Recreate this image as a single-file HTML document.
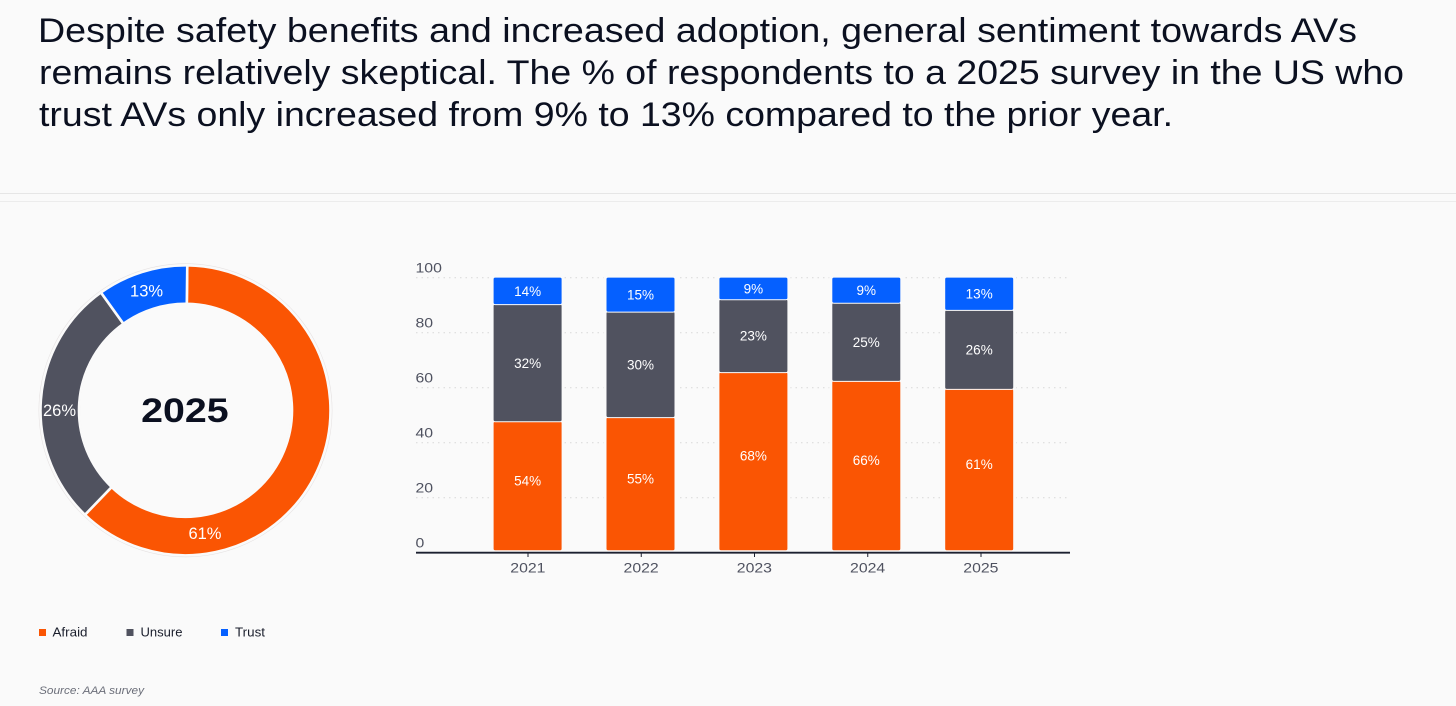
<!DOCTYPE html>
<html lang="en">
<head>
<meta charset="utf-8">
<title>AV sentiment chart</title>
<style>
  html, body { margin: 0; padding: 0; background: #fafafa; }
  body { width: 1456px; height: 706px; overflow: hidden; }
  svg { display: block; font-family: "Liberation Sans", sans-serif; }
</style>
</head>
<body>
<svg id="root" width="1456" height="706" viewBox="0 0 1456 706" xmlns="http://www.w3.org/2000/svg">
  <rect x="0" y="0" width="1456" height="706" fill="#fafafa"/>
  <g fill="#0b1020" font-size="34.5">
    <text x="38" y="42" textLength="1319" lengthAdjust="spacingAndGlyphs">Despite safety benefits and increased adoption, general sentiment towards AVs</text>
    <text x="39" y="84" textLength="1365" lengthAdjust="spacingAndGlyphs">remains relatively skeptical. The % of respondents to a 2025 survey in the US who</text>
    <text x="39" y="126" textLength="1134" lengthAdjust="spacingAndGlyphs">trust AVs only increased from 9% to 13% compared to the prior year.</text>
  </g>
  <rect x="0" y="193" width="1456" height="1" fill="#e6e6e6"/>
  <rect x="0" y="201" width="1456" height="1" fill="#ececec"/>

  <g id="donut"></g>
  <g id="bars"></g>

  <g font-size="13" fill="#1a1e2c">
    <g>
      <rect x="39" y="629" width="7" height="7" fill="#fa5503"/>
      <text x="52.5" y="636.5" textLength="35" lengthAdjust="spacingAndGlyphs">Afraid</text>
    </g>
    <g>
      <rect x="126.5" y="629" width="7" height="7" fill="#50525f"/>
      <text x="140.5" y="636.5" textLength="42" lengthAdjust="spacingAndGlyphs">Unsure</text>
    </g>
    <g>
      <rect x="221" y="629" width="7" height="7" fill="#0560ff"/>
      <text x="235" y="636.5" textLength="30" lengthAdjust="spacingAndGlyphs">Trust</text>
    </g>
  </g>
  <text x="39" y="694" font-size="11" font-style="italic" fill="#6b6e79" textLength="105" lengthAdjust="spacingAndGlyphs">Source: AAA survey</text>
</svg>

<script>
// ---- Data ----
const years = ["2021", "2022", "2023", "2024", "2025"];
const yTicks = [0, 20, 40, 60, 80, 100];
// Drawn segment heights, in axis units
const afraidValues = [47.6, 49.1, 65.5, 62.3, 59.4];
const unsureValues = [42.6, 38.4, 26.5, 28.4, 28.7];
const trustValues = [9.8, 12.5, 8.0, 9.3, 11.9];
// Printed labels
const afraidLabels = ["54%", "55%", "68%", "66%", "61%"];
const unsureLabels = ["32%", "30%", "23%", "25%", "26%"];
const trustLabels = ["14%", "15%", "9%", "9%", "13%"];
// Donut slices (share of the ring) and printed labels
const donutNames = ["afraid", "unsure", "trust"];
const donutValues = [62.0, 27.9, 10.1];
const donutLabels = ["61%", "26%", "13%"];
const donutYear = "2025";

// ---- Helpers ----
const NS = "http://www.w3.org/2000/svg";
function make(parent, tag, attrs, text) {
  const node = document.createElementNS(NS, tag);
  for (const k in attrs) node.setAttribute(k, attrs[k]);
  if (text !== undefined) node.textContent = text;
  parent.appendChild(node);
  return node;
}

// ---- Stacked bars ----
const COLORS = { afraid: "#fa5503", unsure: "#50525f", trust: "#0560ff" };
const barsRoot = document.getElementById("bars");
const plotLeft = 416, plotRight = 1070;
const DIGIT_WIDTH = 8.8;
function y(v) { return 552.7 - 2.75 * v; }
function barCenter(i) { return 527.6 + 112.9 * i; }
function tickCenter(i) { return 528 + 113.25 * i; }

yTicks.forEach(function (t) {
  if (t > 0) {
    const grid = make(barsRoot, "line", { x1: plotLeft, x2: plotRight, y1: y(t), y2: y(t), stroke: "#d8d8d8", "stroke-width": 1, "stroke-dasharray": "1.5 4" });
    
    
  }
  const str = String(t);
  const lab = make(barsRoot, "text", { x: plotLeft - 0.5, y: y(t) - 5.2, "font-size": 13.5, fill: "#4f5260", textLength: DIGIT_WIDTH * str.length, lengthAdjust: "spacingAndGlyphs" }, str);
  
  
});

const stackSeries = [
  { key: "afraid", values: afraidValues, labels: afraidLabels, labelShift: -6.5 },
  { key: "unsure", values: unsureValues, labels: unsureLabels, labelShift: 0 },
  { key: "trust", values: trustValues, labels: trustLabels, labelShift: 0 }
];

years.forEach(function (year, i) {
  const cx = barCenter(i);
  let base = 0;
  const halo = make(barsRoot, "rect", { x: cx - 37, y: y(100) - 1, width: 74, height: 275, fill: "#fafafa" });
  
  
  stackSeries.forEach(function (s, si) {
    const v = s.values[i];
    const top = y(base + v);
    const bottom = y(base) - (si === 0 ? 2 : 0);
    const seg = make(barsRoot, "rect", { x: cx - 34.5, y: top - 0.6, width: 69, height: bottom - top + 0.6, rx: 2, fill: COLORS[s.key], stroke: "#fbfbfb", "stroke-width": 1 });
    
    
    const labelY = (y(base) + y(base + v)) / 2 + s.labelShift + 4.6;
    const lab = make(barsRoot, "text", { x: cx, y: labelY, "text-anchor": "middle", "font-size": 13.5, fill: "#ffffff" }, s.labels[i]);
    
    
    base += v;
  });
  const tick = make(barsRoot, "line", { x1: tickCenter(i), x2: tickCenter(i), y1: 553, y2: 557, stroke: "#1c2030", "stroke-width": 1 });
  
  
  const xl = make(barsRoot, "text", { x: tickCenter(i) - 17.7, y: 572.7, "font-size": 13.5, fill: "#4f5260", textLength: DIGIT_WIDTH * year.length, lengthAdjust: "spacingAndGlyphs" }, year);
  
  
});

const axis = make(barsRoot, "line", { x1: plotLeft, x2: plotRight, y1: 552.7, y2: 552.7, stroke: "#1c2030", "stroke-width": 1.8 });



// ---- Donut ----
const donutRoot = document.getElementById("donut");
const CX = 185.5, CY = 410.3, R_OUT = 145, R_IN = 106.5, START = 0.7;
// Where each printed label sits on the ring: degrees clockwise from the top, and radius
const donutLabelSpot = { afraid: { deg: 171, r: 124.5 }, unsure: { deg: 270, r: 126 }, trust: { deg: 342, r: 126 } };

function polar(r, deg) {
  const a = deg * Math.PI / 180;
  return [CX + r * Math.sin(a), CY - r * Math.cos(a)];
}
const total = donutValues.reduce(function (a, b) { return a + b; }, 0);

const ringOuter = make(donutRoot, "circle", { cx: CX, cy: CY, r: 146.5, fill: "none", stroke: "#e6e2e2", "stroke-width": 0.8 });


const ringInner = make(donutRoot, "circle", { cx: CX, cy: CY, r: 105.8, fill: "none", stroke: "#e6e2e2", "stroke-width": 0.8 });



let angle = START;
donutValues.forEach(function (v, i) {
  const sweep = v / total * 360;
  const end = angle + sweep;
  const large = sweep > 180 ? 1 : 0;
  const p1 = polar(R_OUT, angle), p2 = polar(R_OUT, end), p3 = polar(R_IN, end), p4 = polar(R_IN, angle);
  const d = "M" + p1[0] + " " + p1[1] +
    "A" + R_OUT + " " + R_OUT + " 0 " + large + " 1 " + p2[0] + " " + p2[1] +
    "L" + p3[0] + " " + p3[1] +
    "A" + R_IN + " " + R_IN + " 0 " + large + " 0 " + p4[0] + " " + p4[1] + "Z";
  const slice = make(donutRoot, "path", { d: d, fill: COLORS[donutNames[i]], stroke: "#fafafa", "stroke-width": 2.6 });
  
  
  angle = end;
});

donutValues.forEach(function (v, i) {
  const spot = donutLabelSpot[donutNames[i]];
  const p = polar(spot.r, spot.deg);
  const lab = make(donutRoot, "text", { x: p[0], y: p[1] + 5.8, "text-anchor": "middle", "font-size": 16.5, fill: "#ffffff" }, donutLabels[i]);
  
  
});

const centerText = make(donutRoot, "text", { x: 141.2, y: 422, "font-size": 34, "font-weight": 700, fill: "#0b1020", textLength: 87.5, lengthAdjust: "spacingAndGlyphs" }, donutYear);


</script>
</body>
</html>
